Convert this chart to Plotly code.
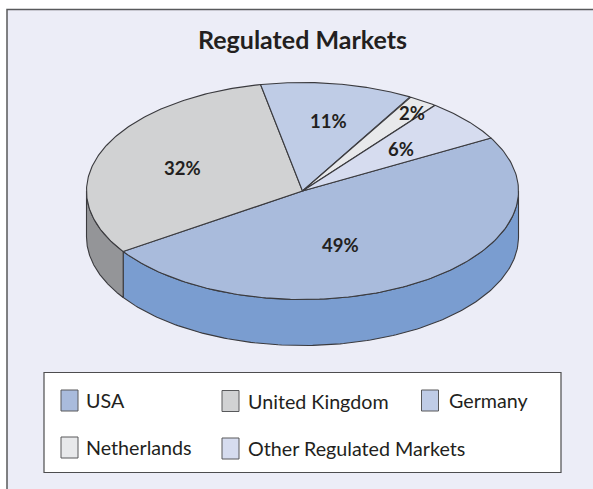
import numpy as np
import plotly.graph_objects as go

# ---- data ----
categories = ["USA", "United Kingdom", "Germany", "Netherlands", "Other Regulated Markets"]
values = [48.7, 31.3, 11.4, 2.2, 6.4]
value_labels = ["49%", "32%", "11%", "2%", "6%"]

# ---- style ----
top_colors = ["#A9BBDC", "#D1D2D3", "#BFCCE6", "#E8E9EB", "#D6DCEF"]
side_colors = ["#7A9DD0", "#949598", "#A3B3D0", "#C0C1C3", "#B5BDD2"]
LINE = "#3A3A3E"
BG = "#ECEDF7"
FONT = "Lato, Carlito, sans-serif"
TEXT = "#231F20"

# pie geometry in axis units (axes span the 593x489 page)
CX, CY, RX, RY, DEPTH = 302.5, 191.0, 216.0, 108.5, 46.0
START_DEG = 29.2


def rim(a0, a1, n=160):
    t = np.radians(np.linspace(a0, a1, n))
    return CX + RX * np.cos(t), CY - RY * np.sin(t)


fig = go.Figure()

# slice spans, clockwise from the start angle
ends = START_DEG - np.cumsum(values) * 360.0 / sum(values)
starts = np.concatenate([[START_DEG], ends[:-1]])

# side walls (only the front half of the rim is visible)
for name, a0, a1, col in zip(categories, starts, ends, side_colors):
    lo, hi = max(a1, -180.0), min(a0, 0.0)
    if hi <= lo:
        continue
    x, y = rim(hi, lo)
    fig.add_trace(go.Scatter(
        x=np.concatenate([x, x[::-1], x[:1]]),
        y=np.concatenate([y, y[::-1] + DEPTH, y[:1]]),
        mode="lines", fill="toself", fillcolor=col,
        line=dict(color=LINE, width=1.1), name=name, hoverinfo="name", showlegend=False))

# top faces
for name, a0, a1, col in zip(categories, starts, ends, top_colors):
    x, y = rim(a0, a1)
    fig.add_trace(go.Scatter(
        x=np.concatenate([[CX], x, [CX]]),
        y=np.concatenate([[CY], y, [CY]]),
        mode="lines", fill="toself", fillcolor=col,
        line=dict(color=LINE, width=1.1), name=name, hoverinfo="name", showlegend=False))

# percentage labels
label_xy = [(340, 245), (182, 168), (328, 121), (412, 113), (401, 149)]
anns = [dict(x=p[0], y=p[1], text=f"<b>{t}</b>", showarrow=False, xref="x", yref="y",
             font=dict(family=FONT, size=18.5, color=TEXT))
        for t, p in zip(value_labels, label_xy)]

# title
anns.append(dict(x=302.5, y=39, text="<b>Regulated Markets</b>", showarrow=False, xref="x", yref="y",
                 font=dict(family=FONT, size=25, color=TEXT)))

# legend (box, swatches and names)
shapes = [
    dict(type="rect", x0=7, y0=9.5, x1=620, y1=520, fillcolor=BG, line=dict(color="#58595B", width=1.5), layer="below"),
    dict(type="rect", x0=44, y0=372.5, x1=561, y1=472.5, fillcolor="white", line=dict(color="#4D4D4F", width=1.2), layer="below"),
]
legend_xy = [(61, 400.5), (222, 401), (421.5, 400.5), (61, 447.5), (222, 448.5)]
text_gap = [23, 24, 25, 23, 24]
for name, col, (lx, ly), gap in zip(categories, top_colors, legend_xy, text_gap):
    shapes.append(dict(type="rect", x0=lx, x1=lx + 17, y0=ly - 10.5, y1=ly + 10.5,
                       fillcolor=col, line=dict(color="#58595B", width=1), layer="below"))
    anns.append(dict(x=lx + gap, y=ly, text=name, showarrow=False, xanchor="left", xref="x", yref="y",
                     font=dict(family=FONT, size=19.7, color=TEXT)))

fig.update_layout(
    width=593, height=489, margin=dict(l=0, r=0, t=0, b=0),
    paper_bgcolor="white", plot_bgcolor="white", showlegend=False,
    xaxis=dict(range=[0, 593], visible=False, fixedrange=True),
    yaxis=dict(range=[489, 0], visible=False, fixedrange=True),
    shapes=shapes, annotations=anns,
)

fig.write_html("out.html", config={"displayModeBar": False},
               post_script="document.body.style.margin='0';document.body.style.overflow='hidden';")
